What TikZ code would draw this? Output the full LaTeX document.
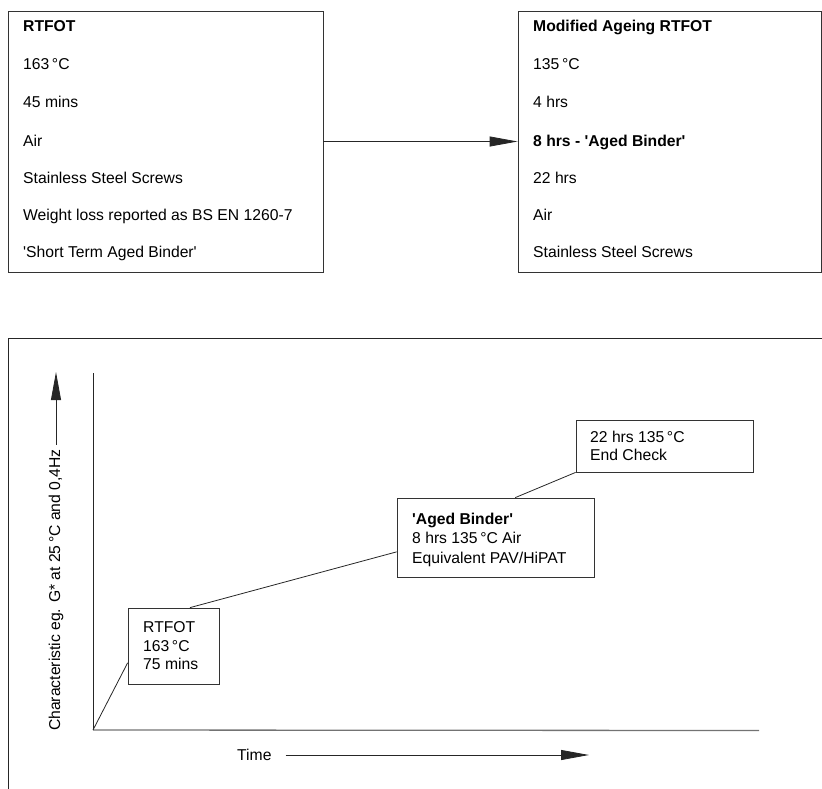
\documentclass[tikz,border=0pt]{standalone}
\usepackage{fontspec}
\setmainfont{Liberation Sans}
\usetikzlibrary{arrows.meta,calc}
\newcommand{\sq}{\textquotesingle}
\begin{document}
\begin{tikzpicture}[x=1pt,y=-1pt,
  boxed/.style={draw=black!80, line width=0.8pt, inner sep=0pt},
  txt/.style={anchor=base west, inner sep=0pt, font=\fontsize{15.7}{18}\selectfont},
  ln/.style={line width=0.8pt, draw=black!85},
  tip/.style={-{Triangle[length=28pt,width=10pt]}}
]
\useasboundingbox (0,0) rectangle (822,788);

% ---------- top boxes ----------
\node[boxed, minimum width=315pt, minimum height=261pt] (b1) at (165.5,141.5) {};
\node[boxed, minimum width=303pt, minimum height=261pt] (b2) at (669.5,141.5) {};

\node[txt] (t1) at (23,31.6) {\bfseries RTFOT};
\node[txt] (t2) at (23,69.6) {163\,°C};
\node[txt] (t3) at (23,107.6) {45 mins};
\node[txt] (t4) at (23,146.2) {Air};
\node[txt] (t5) at (23,183.6) {Stainless Steel Screws};
\node[txt] (t6) at (23,220.6) {Weight loss reported as BS EN 1260-7};
\node[txt] (t7) at (23,257.6) {\sq Short Term Aged Binder\sq};

\node[txt] (r1) at (533,31.6) {\bfseries Modified Ageing RTFOT};
\node[txt] (r2) at (533,69.6) {135\,°C};
\node[txt] (r3) at (533,107.6) {4 hrs};
\node[txt] (r4) at (533,146.2) {\bfseries 8 hrs - \sq Aged Binder\sq};
\node[txt] (r5) at (533,183.6) {22 hrs};
\node[txt] (r6) at (533,220.6) {Air};
\node[txt] (r7) at (533,257.6) {Stainless Steel Screws};

\draw[ln,tip] (b1.east) -- (b2.west);

% ---------- lower panel ----------
\draw[line width=0.8pt, draw=black!85] (8,792) -- (8,338.5) -- (826,338.5);

\coordinate (o) at (93,730);
\coordinate (ytop) at (93,373);
\coordinate (xend) at (759,730.5);
\draw[ln] (ytop) -- (o);
\draw[line width=1.3pt, draw=black!55] (o) -- (xend);

\node[inner sep=0pt, rotate=90, font=\fontsize{15.7}{18}\selectfont] (yl) at (56,590)
  {Characteristic eg. G* at 25\,°C and 0,4Hz};
\coordinate (ytip) at (57,372);
\draw[ln,tip] ($(yl.east)+(0,-4)$) -- (yl.east |- ytip);

\node[txt] (tl) at (237,760.6) {Time};
\coordinate (ttip) at (589,755);
\draw[ln,tip] ([xshift=14pt]tl.east) -- (tl.east -| ttip);

\node[boxed, minimum width=91pt, minimum height=76pt] (rt) at (173.5,646) {};
\node[txt] (rt1) at (143,632.6) {RTFOT};
\node[txt] (rt2) at (143,651.6) {163\,°C};
\node[txt] (rt3) at (143,669.6) {75 mins};

\node[boxed, minimum width=197pt, minimum height=79pt] (ag) at (495.5,537.5) {};
\node[txt] (ag1) at (412,524.6) {\bfseries \sq Aged Binder\sq};
\node[txt] (ag2) at (412,543.6) {8 hrs 135\,°C Air};
\node[txt] (ag3) at (412,563.6) {Equivalent PAV/HiPAT};

\node[boxed, minimum width=177pt, minimum height=52pt] (ec) at (664.5,446) {};
\node[txt] (ec1) at (590,442.6) {22 hrs 135\,°C};
\node[txt] (ec2) at (590,460.6) {End Check};

\draw[ln] (o) -- ($(rt.north west)!0.72!(rt.south west)$);
\draw[ln] ($(rt.north west)!0.68!(rt.north east)$) -- ($(ag.north west)!0.68!(ag.south west)$);
\draw[ln] ($(ag.north west)!0.6!(ag.north east)$) -- (ec.south west);
\end{tikzpicture}
\end{document}
